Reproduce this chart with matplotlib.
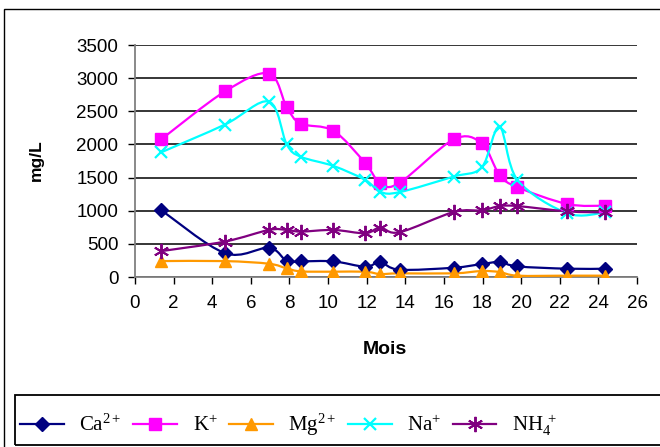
import numpy as np
import matplotlib
matplotlib.use("Agg")
import matplotlib.pyplot as plt
from matplotlib.path import Path
from matplotlib.patches import PathPatch, Rectangle
from matplotlib.lines import Line2D

plt.rcParams["font.family"] = ["Liberation Sans", "DejaVu Sans"]
plt.rcParams["mathtext.fontset"] = "custom"
plt.rcParams["mathtext.rm"] = "Liberation Serif"
plt.rcParams["mathtext.it"] = "Liberation Serif:italic"
plt.rcParams["mathtext.bf"] = "Liberation Serif:bold"

# Sampling months and ion concentrations (mg/L)
months = [1.35, 4.66, 6.94, 7.86, 8.58, 10.28, 11.92, 12.7, 13.7, 16.5, 17.96, 18.88, 19.81, 22.4, 24.35]
ca = [1010, 360, 440, 240, 236, 236, 155, 221, 110, 140, 195, 225, 160, 125, 125]
k = [2075, 2800, 3070, 2560, 2315, 2205, 1720, 1415, 1420, 2075, 2015, 1540, 1355, 1100, 1075]
mg = [240, 240, 200, 130, 85, 80, 80, 45, 55, 55, 90, 75, 20, 20, 20]
na = [1880, 2300, 2645, 2000, 1815, 1675, 1465, 1285, 1280, 1515, 1655, 2265, 1465, 960, 975]
nh4 = [390, 535, 710, 710, 685, 710, 660, 745, 675, 980, 1005, 1070, 1070, 990, 975]

series_labels = [r"Ca$^{2+}$", r"K$^{+}$", r"Mg$^{2+}$", r"Na$^{+}$", r"NH$_{4}^{\ +}$"]
x_ticks = list(range(0, 27, 2))
y_ticks = list(range(0, 3501, 500))

styles = [
    dict(color="#000080", marker="D", ms=7, mew=1),
    dict(color="#FF00FF", marker="s", ms=8, mew=1),
    dict(color="#FF9900", marker="^", ms=9, mew=1),
    dict(color="#00FFFF", marker="x", ms=9, mew=1.6),
    dict(color="#800080", marker=(6, 2, 0), ms=11, mew=1.4),
]


def smooth_path(x, y):
    """Smoothed polyline through the points using cubic Bezier segments."""
    pts = np.column_stack([x, y]).astype(float)
    n = len(pts)
    verts = [pts[0]]
    codes = [Path.MOVETO]
    for i in range(n - 1):
        p0 = pts[i - 1] if i > 0 else pts[i]
        p1 = pts[i]
        p2 = pts[i + 1]
        p3 = pts[i + 2] if i + 2 < n else pts[i + 1]
        c1 = p1 + (p2 - p0) / 6.0
        c2 = p2 - (p3 - p1) / 6.0
        verts += [c1, c2, p2]
        codes += [Path.CURVE4] * 3
    return Path(verts, codes)


W, H = 660, 447
fig = plt.figure(figsize=(W / 100, H / 100), dpi=100)
ax = fig.add_axes([135 / W, (H - 277) / H, (637 - 135) / W, (277 - 45) / H])

for vals, st in zip([ca, k, mg, na, nh4], styles):
    ax.add_patch(PathPatch(smooth_path(months, vals), facecolor="none",
                           edgecolor=st["color"], lw=1.6, zorder=3))
    ax.plot(months, vals, linestyle="none", marker=st["marker"], ms=st["ms"],
            mfc=st["color"], mec=st["color"], mew=st["mew"], zorder=4)

ax.set_xlim(0, 26)
ax.set_ylim(0, 3500)
ax.set_xticks(x_ticks)
ax.set_yticks(y_ticks)
ax.tick_params(axis="both", labelsize=13.5, length=5, width=1, color="black", direction="out")
ax.tick_params(axis="y", pad=7)
ax.tick_params(axis="x", pad=8)
ax.yaxis.grid(True, color="black", lw=1.1)
ax.set_axisbelow(True)
for s in ["top", "right"]:
    ax.spines[s].set_visible(False)
for s in ["left", "bottom"]:
    ax.spines[s].set_color("#808080")
    ax.spines[s].set_linewidth(1.3)

fig.text(36 / W, 1 - 160 / H, "mg/L", rotation=90, ha="center", va="center",
         fontsize=12.5, fontweight="bold")
fig.text(385 / W, 1 - 350 / H, "Mois", ha="center", va="center",
         fontsize=14, fontweight="bold")

# Chart area border and legend frame
fig.patches.append(Rectangle((4 / W, -0.05), 1.2, (H - 8.5) / H + 0.05,
                             transform=fig.transFigure, fill=False,
                             edgecolor="black", lw=1.0))
fig.patches.append(Rectangle((15 / W, 2 / H), 1.2, 50 / H,
                             transform=fig.transFigure, fill=False,
                             edgecolor="black", lw=1.3))

handles = [Line2D([], [], color=st["color"], lw=1.6, marker=st["marker"],
                  ms=st["ms"], mfc=st["color"], mec=st["color"], mew=st["mew"])
           for st in styles]
fig.legend(handles, series_labels, loc="center left",
           bbox_to_anchor=(20 / W, (H - 425) / H), ncol=5, frameon=False,
           prop={"family": "Liberation Serif", "size": 15},
           handlelength=2.1, handletextpad=0.75, columnspacing=0.55,
           borderpad=0, borderaxespad=0)

fig.savefig("out.png", dpi=100)
